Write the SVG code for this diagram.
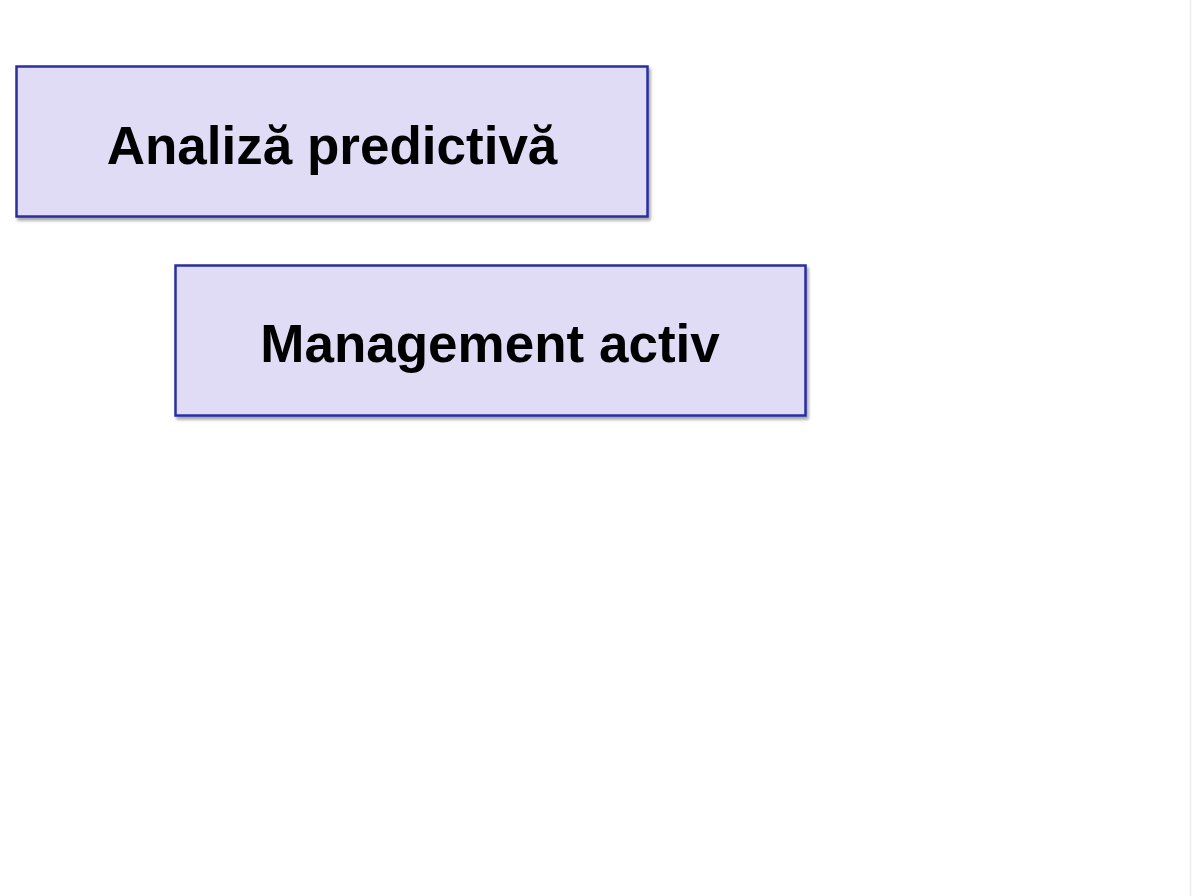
<svg xmlns="http://www.w3.org/2000/svg" width="1193" height="896" viewBox="0 0 1193 896">
<defs>
<filter id="sh" x="-5%" y="-10%" width="115%" height="130%">
<feGaussianBlur in="SourceAlpha" stdDeviation="1.5"/>
<feOffset dx="2" dy="3" result="o"/>
<feComponentTransfer><feFuncA type="linear" slope="0.35"/></feComponentTransfer>
<feMerge><feMergeNode/><feMergeNode in="SourceGraphic"/></feMerge>
</filter>
</defs>
<style>
.box{fill:#e1dcf6;stroke:#2a2f9f;stroke-width:2.5;filter:url(#sh)}
.lbl{font-family:"Liberation Sans",Arial,sans-serif;font-weight:bold;font-size:53px;fill:#000;text-anchor:middle}
</style>
<rect width="1193" height="896" fill="#ffffff"/>
<line x1="1190.5" y1="0" x2="1190.5" y2="896" stroke="#ececec" stroke-width="1.5"/>
<g id="connectors"></g>
<g id="node-analiza">
<rect class="box" x="16.5" y="66.5" width="631" height="150"/>
<text class="lbl" x="332" y="164">Analiză predictivă</text>
</g>
<g id="node-management">
<rect class="box" x="175.5" y="265.5" width="630" height="150"/>
<text class="lbl" x="490" y="362">Management activ</text>
</g>
</svg>
